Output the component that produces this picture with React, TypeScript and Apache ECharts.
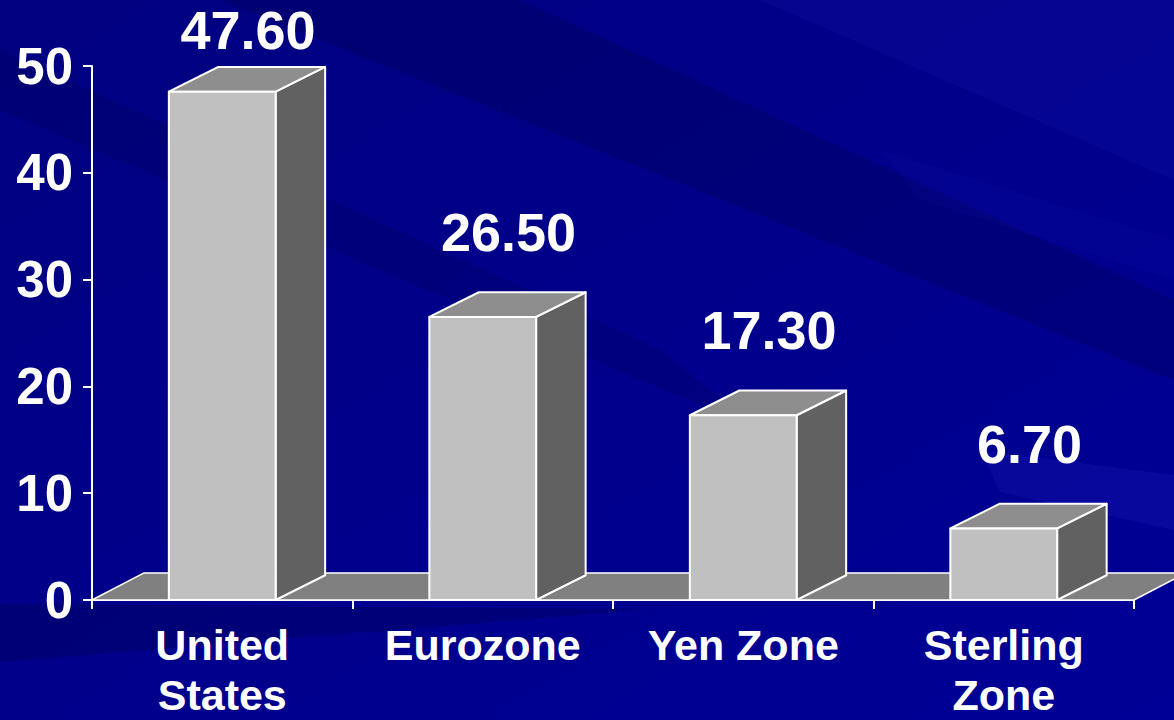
import React, { useEffect, useRef } from "react";
import * as echarts from "echarts";

const categories = ["United\nStates", "Eurozone", "Yen Zone", "Sterling\nZone"];
const values = [47.6, 26.5, 17.3, 6.7];
const yTicks = { min: 0, max: 50, interval: 10 };

const FONT = '"Liberation Sans", Arial, Helvetica, sans-serif';

export default function App() {
  const ref = useRef<HTMLDivElement>(null);
  useEffect(() => {
    if (!ref.current) return;
    const chart = echarts.init(ref.current, null, { renderer: "svg" });
    const n = categories.length;

    const bgShapes: any[] = [
      { pts: [[220, 0], [520, 0], [1174, 300], [1174, 380]], fill: "rgba(0,0,50,0.2)" },
      { pts: [[0, 50], [0, 110], [760, 430], [660, 350]], fill: "rgba(0,0,50,0.14)" },
      { pts: [[760, 0], [1174, 0], [1174, 180]], fill: "rgba(40,40,200,0.12)" },
      { pts: [[880, 150], [1174, 240], [1174, 280], [920, 200]], fill: "rgba(40,40,200,0.08)" },
      { pts: [[980, 450], [1174, 475], [1174, 530], [1000, 492]], fill: "rgba(60,60,220,0.14)" },
      { pts: [[0, 604], [650, 609], [0, 662]], fill: "rgba(0,0,50,0.22)" },
    ];

    const option: any = {
      animation: false,
      backgroundColor: {
        type: "linear", x: 0, y: 0, x2: 1, y2: 1,
        colorStops: [
          { offset: 0, color: "#000080" },
          { offset: 1, color: "#000096" },
        ],
      },
      graphic: bgShapes.map((s) => ({
        type: "polygon",
        z: -10,
        silent: true,
        shape: { points: s.pts },
        style: { fill: s.fill },
      })),
      grid: { left: 92, right: 40, top: 66, bottom: 115, containLabel: false },
      xAxis: {
        type: "category",
        data: categories,
        boundaryGap: true,
        axisLine: { show: true, lineStyle: { color: "#ffffff", width: 2 } },
        axisTick: { show: true, length: 9, alignWithLabel: false, lineStyle: { color: "#ffffff", width: 2 } },
        axisLabel: {
          interval: 0,
          color: "#ffffff",
          fontSize: 43,
          fontWeight: "bold",
          fontFamily: FONT,
          lineHeight: 50,
          margin: 20,
        },
        splitLine: { show: false },
      },
      yAxis: {
        type: "value",
        min: yTicks.min,
        max: yTicks.max,
        interval: yTicks.interval,
        axisLine: { show: true, lineStyle: { color: "#ffffff", width: 2 } },
        axisTick: { show: true, length: 9, inside: false, lineStyle: { color: "#ffffff", width: 2 } },
        axisLabel: {
          color: "#ffffff",
          fontSize: 51,
          fontWeight: "bold",
          fontFamily: FONT,
          margin: 19,
        },
        splitLine: { show: false },
      },
      series: [
        {
          type: "custom",
          z: 1,
          silent: true,
          data: [[0, 0]],
          renderItem: (params: any, api: any) => {
            const first = api.coord([0, 0]);
            const last = api.coord([n - 1, 0]);
            const band = api.size([1, 0])[0];
            const dx = band * 0.2;
            const dy = dx * 0.52;
            const xl = first[0] - band / 2;
            const xr = last[0] + band / 2;
            const y = first[1];
            return {
              type: "polygon",
              shape: { points: [[xl, y], [xl + dx, y - dy], [xr + dx, y - dy], [xr, y]] },
              style: { fill: "#808080", stroke: "#ffffff", lineWidth: 1.5, lineJoin: "round" },
            };
          },
        },
        {
          type: "custom",
          z: 3,
          silent: true,
          data: values.map((v, i) => [i, v]),
          encode: { x: 0, y: 1 },
          renderItem: (params: any, api: any) => {
            const idx = api.value(0);
            const v = api.value(1);
            const top = api.coord([idx, v]);
            const base = api.coord([idx, 0]);
            const ceil = api.coord([idx, yTicks.max]);
            const band = api.size([1, 0])[0];
            const w = band * 0.41;
            const dx = band * 0.19;
            const dy = dx * 0.5;
            const x0 = top[0] - w / 2;
            const x1 = top[0] + w / 2;
            const y0 = top[1];
            const yb = base[1];
            const edge = { stroke: "#ffffff", lineWidth: 2, lineJoin: "round" };
            const baseline = Math.max(y0 - dy - 38, ceil[1] - 14);
            return {
              type: "group",
              children: [
                {
                  type: "polygon",
                  shape: { points: [[x1, yb], [x1, y0], [x1 + dx, y0 - dy], [x1 + dx, yb - dy]] },
                  style: { fill: "#616161", ...edge },
                },
                {
                  type: "polygon",
                  shape: { points: [[x0, y0], [x0 + dx, y0 - dy], [x1 + dx, y0 - dy], [x1, y0]] },
                  style: { fill: "#8e8e8e", ...edge },
                },
                {
                  type: "rect",
                  shape: { x: x0, y: y0, width: w, height: yb - y0 },
                  style: { fill: "#c0c0c0", ...edge },
                },
                {
                  type: "text",
                  style: {
                    text: v.toFixed(2),
                    x: top[0] + dx / 2 + 1,
                    y: baseline + 5,
                    fill: "#ffffff",
                    fontSize: 54,
                    fontWeight: "bold",
                    fontFamily: FONT,
                    align: "center",
                    verticalAlign: "bottom",
                  },
                },
              ],
            };
          },
        },
      ],
    };
    chart.setOption(option);
    return () => chart.dispose();
  }, []);

  return (
    <div
      ref={ref}
      style={{ position: "absolute", left: 0, top: 0, width: 1174, height: 720 }}
    />
  );
}
